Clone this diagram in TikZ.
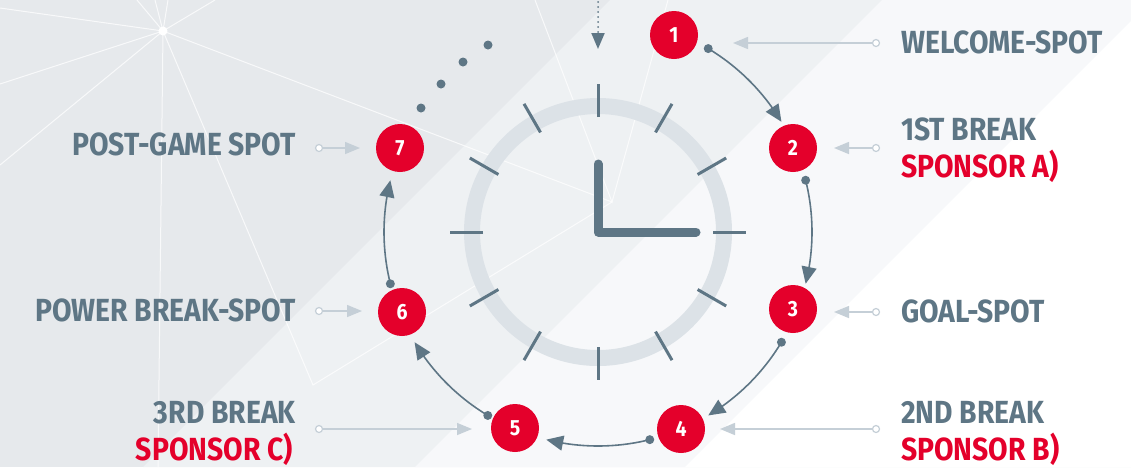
\documentclass[tikz,border=0pt]{standalone}
\usepackage{fontspec}
\newfontfamily\labfont{Fira Sans}[FakeStretch=0.885]
\usetikzlibrary{arrows.meta,bending,calc}
\definecolor{bgA}{HTML}{E6E9EC}
\definecolor{bgB}{HTML}{EEF1F3}
\definecolor{bgC}{HTML}{F7F8FA}
\definecolor{slate}{HTML}{5E7685}
\definecolor{brandred}{HTML}{E4002B}
\definecolor{ringc}{HTML}{DCE2E7}
\definecolor{ptrc}{HTML}{C5CFD7}
\tikzset{
  lab/.style={inner sep=0pt, text=slate, font=\labfont\bfseries\fontsize{32}{37}\selectfont},
  labred/.style={lab, text=brandred},
  redc/.style={circle, fill=brandred, minimum size=48pt, inner sep=0pt, text=white,
    font=\labfont\bfseries\fontsize{22}{22}\selectfont},
  pdot/.style={circle, draw=ptrc, fill=white, line width=1.2pt, minimum size=7pt, inner sep=0pt},
  ptrline/.style={draw=ptrc, line width=1.5pt, -{Triangle[length=15pt,width=12pt]}},
  conn/.style={draw=slate, line width=1.6pt, -{Triangle[length=17pt,width=15pt]}},
  cdot/.style={circle, fill=slate, minimum size=9pt, inner sep=0pt},
  tickmark/.style={draw=slate, line width=3pt},
  net/.style={draw=white, line width=1pt, opacity=0.75},
}
\begin{document}
\begin{tikzpicture}[x=1pt,y=-1pt]
\useasboundingbox (0,0) rectangle (1131,467);
% background bands
\fill[bgA] (0,0) rectangle (1131,467);
\fill[bgB] (610,0) -- (1131,0) -- (1131,467) -- (143,467) -- cycle;
\fill[bgC] (882,0) -- (1131,0) -- (1131,467) -- (415,467) -- cycle;
\fill[white] (1131,21) -- (1131,467) -- (685,467) -- cycle;
% network lines
\coordinate (H) at (163,31);
\coordinate (Q) at (313,385);
\coordinate (R) at (612,202);
\foreach \p in {(137,0),(155,0),(168,0),(215,0),(0,8),(0,84),(0,165),(158,467)}
  \draw[net] (H) -- \p;
\draw[net] (H) -- (Q) -- (R) -- (H);
\draw[net] (535,0) -- (R) -- (668,0);
\fill[white] (H) circle (4.5);
% clock
\coordinate (O) at (598,232);
\draw[ringc, line width=16pt] (O) circle (126);
\foreach \a in {0,30,...,330}
  \draw[tickmark] ($(O)+(\a:115)$) -- ($(O)+(\a:148)$);
\draw[slate, line width=9pt, line cap=round, line join=round] (598,164) -- (O) -- (696,232);
% top dotted arrow
\coordinate (ts) at (598,2);
\coordinate (te) at (598,49);
\draw[slate, line width=2pt, line cap=round, dash pattern=on 0pt off 5pt,
  -{Triangle[length=16pt,width=13pt]}] (ts) -- (te);
% ellipsis dots
\node[cdot] (e1) at (421,108) {};
\node[cdot] (e2) at (441,84) {};
\node[cdot] (e3) at (463,62) {};
\node[cdot] (e4) at (488,45) {};
% red circles
\node[redc] (c1) at (674,35) {1};
\node[redc] (c2) at (793,148) {2};
\node[redc] (c3) at (793,309) {3};
\node[redc] (c4) at (681,429) {4};
\node[redc] (c5) at (515,428) {5};
\node[redc] (c6) at (402,312) {6};
\node[redc] (c7) at (400,148) {7};
% sequence arcs
\foreach \s/\e/\n in {-59/-31/1, -14/14/2, 31/59/3, 76/104/4, 121/149/5, 166/194/6}{
  \coordinate (d\n) at ($(O)+(\s:214)$);
  \draw[conn] (d\n) arc[start angle=\s, end angle=\e, radius=214];
  \node[cdot] at (d\n) {};
}
% pointers right
\node[pdot] (p1) at (876,43) {};  \coordinate (t1) at (733,43);
\node[pdot] (p2) at (876,148) {}; \coordinate (t2) at (834,148);
\node[pdot] (p3) at (876,312) {}; \coordinate (t3) at (834,312);
\node[pdot] (p4) at (876,429) {}; \coordinate (t4) at (720,429);
\draw[ptrline] (p1) -- (t1);
\draw[ptrline] (p2) -- (t2);
\draw[ptrline] (p3) -- (t3);
\draw[ptrline] (p4) -- (t4);
% pointers left
\node[pdot] (p7) at (319,148) {}; \coordinate (t7) at (360,148);
\node[pdot] (p6) at (319,311) {}; \coordinate (t6) at (362,311);
\node[pdot] (p5) at (319,429) {}; \coordinate (t5) at (472,429);
\draw[ptrline] (p7) -- (t7);
\draw[ptrline] (p6) -- (t6);
\draw[ptrline] (p5) -- (t5);
% labels right
\node[lab, anchor=base west] (l1) at (901,53) {WELCOME-SPOT};
\node[lab, anchor=base west] (l2a) at (901,140) {1ST BREAK};
\node[labred, anchor=base west] (l2b) at (901,177) {SPONSOR A)};
\node[lab, anchor=base west] (l3) at (901,322) {GOAL-SPOT};
\node[lab, anchor=base west] (l4a) at (901,423) {2ND BREAK};
\node[labred, anchor=base west] (l4b) at (901,460) {SPONSOR B)};
% labels left
\node[lab, anchor=base east] (l7) at (296,155) {POST-GAME SPOT};
\node[lab, anchor=base east] (l6) at (296,321) {POWER BREAK-SPOT};
\node[lab, anchor=base east] (l5a) at (296,423) {3RD BREAK};
\node[labred, anchor=base east] (l5b) at (293,460) {SPONSOR C)};
\end{tikzpicture}
\end{document}
